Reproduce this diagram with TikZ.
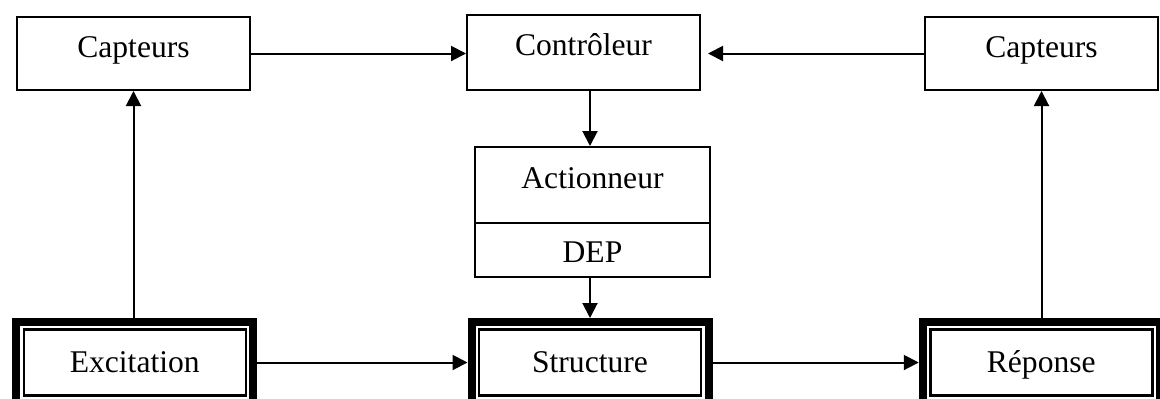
\documentclass[tikz,border=0pt]{standalone}
\usepackage{fontspec}
\setmainfont{Liberation Serif}
\usetikzlibrary{arrows.meta}
\begin{document}
\begin{tikzpicture}[x=0.5pt,y=-0.5pt,
  every node/.style={font=\fontsize{15.8}{19}\selectfont},
  box/.style={draw, line width=1pt, inner xsep=0pt, inner ysep=0pt},
  bigbox/.style={draw, line width=4pt, inner xsep=0pt, inner ysep=0pt,
    minimum width=118.5pt, text height=25pt, text depth=15.5pt},
  innerframe/.style={draw, line width=1.25pt},
  arr/.style={line width=1pt, -{Triangle[length=7.5pt,width=7.5pt]}}]
\useasboundingbox (0,0) rectangle (1160,398);
\clip (0,0) rectangle (1160,398);
% top row
\node[box, minimum width=116.5pt, text height=20pt, text depth=16.5pt] (cap1) at (133.5,53.5) {Capteurs};
\node[box, minimum width=116.5pt, text height=20pt, text depth=17.5pt] (ctrl) at (583.5,52.5) {Contrôleur};
\node[box, minimum width=116.5pt, text height=20pt, text depth=16.5pt] (cap2) at (1041.5,53.5) {Capteurs};
% actuator
\node[box, minimum width=117.5pt, text height=20.5pt, text depth=17.5pt] (act) at (592.5,185) {Actionneur};
\node[box, minimum width=117.5pt, text height=19.5pt, text depth=7.5pt] (dep) at (592.5,250) {DEP};
% bottom row
\node[bigbox] (exc) at (134.75,362.5) {Excitation};
\node[bigbox] (str) at (590,362.5) {Structure};
\node[bigbox] (rep) at (1041.25,362.5) {Réponse};
\foreach \n in {exc,str,rep}{
  \draw[innerframe] ([xshift=5.75pt,yshift=-5.75pt]\n.north west) rectangle ([xshift=-5.75pt,yshift=5.75pt]\n.south east);
}
% connectors
\draw[arr] (cap1.east) -- (cap1.east -| ctrl.west);
\draw[arr, shorten >=3.5pt] (cap2.west) -- (cap2.west -| ctrl.east);
\draw[arr] (str.north |- ctrl.south) -- (str.north |- act.north);
\draw[arr] (str.north |- dep.south) -- (str.north);
\draw[arr] (exc.east) -- (str.west);
\draw[arr] (str.east) -- (rep.west);
\draw[arr] (cap1.south |- exc.north) -- (cap1.south);
\draw[arr] (cap2.south |- rep.north) -- (cap2.south);
\end{tikzpicture}
\end{document}
